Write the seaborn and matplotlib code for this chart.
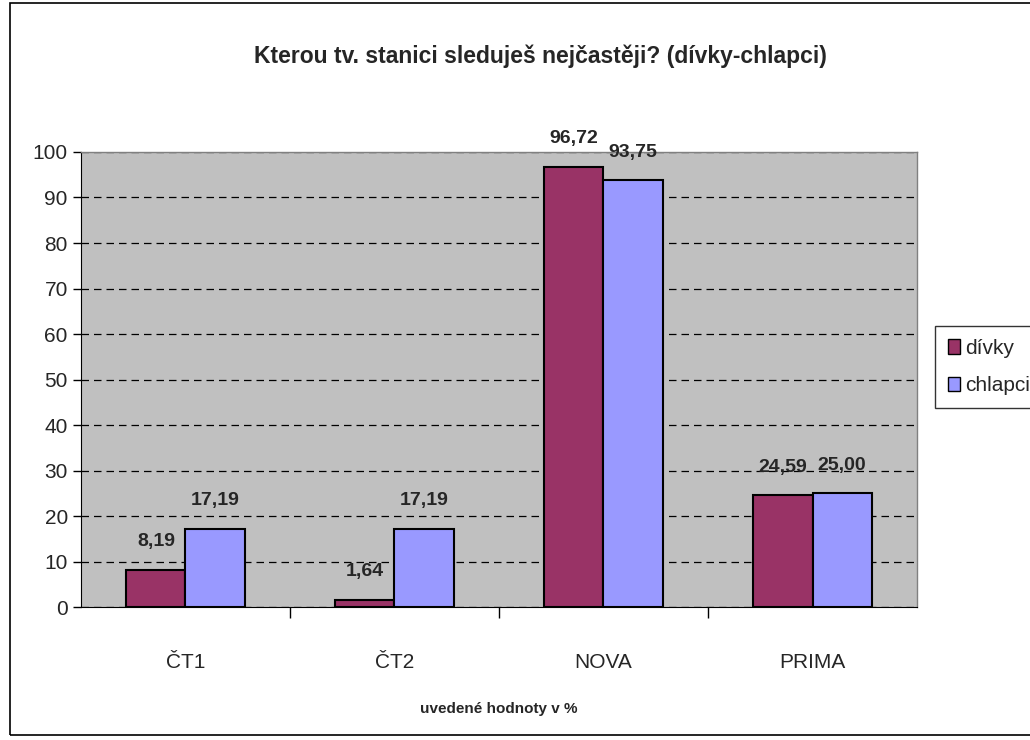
import matplotlib
matplotlib.use('Agg')

import numpy as np
import pandas as pd
import matplotlib.pyplot as plt
import seaborn as sns
from matplotlib import font_manager
from matplotlib.patches import Rectangle

# data
stanice = ['ČT1', 'ČT2', 'NOVA', 'PRIMA']
divky = [8.19, 1.64, 96.72, 24.59]
chlapci = [17.19, 17.19, 93.75, 25.00]
skupiny = ['dívky', 'chlapci']
barvy = ['#993366', '#9999FF']

df = pd.DataFrame({
    'stanice': stanice * 2,
    'hodnota': divky + chlapci,
    'skupina': ['dívky'] * len(stanice) + ['chlapci'] * len(stanice),
})

sns.set_style('white')

names = {f.name for f in font_manager.fontManager.ttflist}
if 'Liberation Sans Narrow' in names:
    plt.rcParams['font.family'] = ['Liberation Sans Narrow', 'DejaVu Sans']
    fs = 17
else:
    plt.rcParams['font.family'] = ['Liberation Sans', 'DejaVu Sans']
    fs = 15

fig = plt.figure(figsize=(10.3, 7.4), dpi=100)
ax = fig.add_axes([0.0786, 0.1797, 0.8117, 0.6149])

sns.barplot(
    data=df,
    x='stanice',
    y='hodnota',
    hue='skupina',
    hue_order=skupiny,
    palette=barvy,
    width=0.565,
    edgecolor='black',
    linewidth=1.5,
    saturation=1,
    ax=ax
)

ax.set_facecolor('#C0C0C0')
ax.set_ylim(0, 100)
ax.set_xlim(-0.5, len(stanice) - 0.5)
ax.set_yticks(np.arange(0, 101, 10))
ax.yaxis.grid(True, color='black', linestyle=(0, (6, 4)), linewidth=0.9)
ax.set_axisbelow(True)

for s in ['top', 'right']:
    ax.spines[s].set_color('#808080')
    ax.spines[s].set_linewidth(1)
ax.spines['left'].set_color('black')
ax.spines['bottom'].set_color('black')

ax.tick_params(axis='y', which='major', direction='out', length=6, width=1,
               color='black', labelsize=fs, left=True)
ax.tick_params(axis='x', which='major', length=0, labelsize=fs, pad=33)
ax.set_xticks(np.arange(0.5, len(stanice) - 0.5), minor=True)
ax.tick_params(axis='x', which='minor', direction='out', length=8, width=1,
               color='black', bottom=True)

ax.set_xlabel('uvedené hodnoty v %', fontsize=11, fontweight='bold', labelpad=22)
ax.set_ylabel('')

for cont in ax.containers:
    labels = [f'{v:.2f}'.replace('.', ',') for v in cont.datavalues]
    ax.bar_label(cont, labels=labels, padding=14, fontsize=fs - 1,
                 fontweight='bold')

fig.suptitle('Kterou tv. stanici sleduješ nejčastěji? (dívky-chlapci)',
             x=0.525, y=0.94, fontsize=fs + 1.5, fontweight='bold')

leg = ax.legend(loc='center left', bbox_to_anchor=(935 / 1030, 1 - 367 / 740),
                bbox_transform=fig.transFigure, frameon=True, fontsize=fs,
                handlelength=0.6, handleheight=0.7, handletextpad=0.25,
                labelspacing=0.9, borderpad=0.6, fancybox=False,
                borderaxespad=0)
leg.get_frame().set_edgecolor('black')
leg.get_frame().set_linewidth(1)
for h in leg.legend_handles:
    h.set_edgecolor('black')
    h.set_linewidth(1)

fig.patches.append(Rectangle((10 / 1030, 5 / 740), 1.2, 1 - 8 / 740,
                             transform=fig.transFigure, fill=False,
                             edgecolor='black', linewidth=1.2))

fig.savefig('out.png', dpi=100)
